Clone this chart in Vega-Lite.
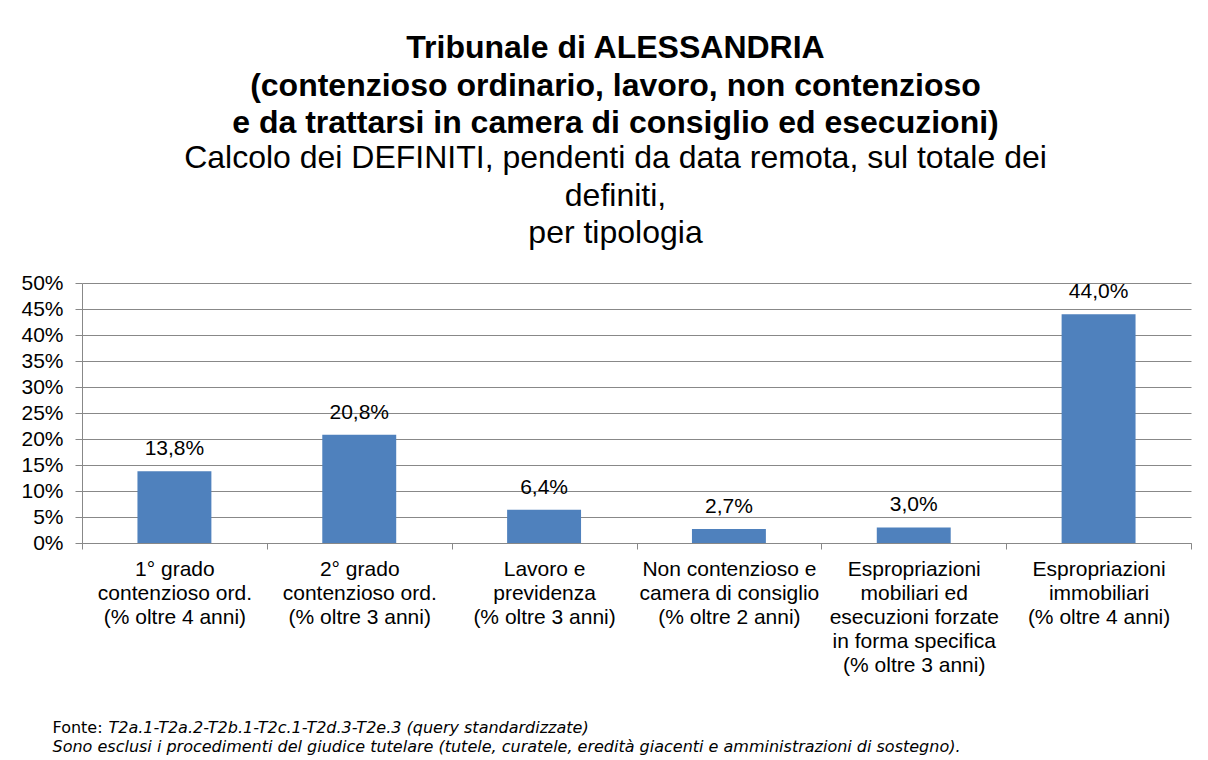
{
  "$schema": "https://vega.github.io/schema/vega-lite/v6.json",
  "width": 1109,
  "height": 260,
  "autosize": "none",
  "padding": {"left": 82, "top": 283, "right": 17, "bottom": 217},
  "background": "white",
  "config": {
    "locale": {"number": {"decimal": ",", "thousands": ".", "grouping": [3], "currency": ["€", ""]}},
    "font": "Liberation Sans",
    "view": {"stroke": null}
  },
  "title": {
    "text": ["Tribunale di ALESSANDRIA", "(contenzioso ordinario, lavoro, non contenzioso", "e da trattarsi in camera di consiglio ed esecuzioni)"],
    "subtitle": ["Calcolo dei DEFINITI, pendenti da data remota, sul totale dei", "definiti,", "per tipologia"],
    "font": "Liberation Sans",
    "subtitleFont": "Liberation Sans",
    "fontSize": 32,
    "fontWeight": "bold",
    "subtitleFontSize": 32,
    "subtitleFontWeight": "normal",
    "lineHeight": 37.5,
    "subtitleLineHeight": 37.5,
    "subtitlePadding": 3,
    "color": "#000000",
    "subtitleColor": "#000000",
    "anchor": "middle",
    "dx": -21,
    "offset": 22
  },
  "data": {
    "values": [
      {"categoria": "1° grado|contenzioso ord.|(% oltre 4 anni)", "valore": 0.138},
      {"categoria": "2° grado|contenzioso ord.|(% oltre 3 anni)", "valore": 0.208},
      {"categoria": "Lavoro e|previdenza|(% oltre 3 anni)", "valore": 0.064},
      {"categoria": "Non contenzioso e|camera di consiglio|(% oltre 2 anni)", "valore": 0.027},
      {"categoria": "Espropriazioni|mobiliari ed|esecuzioni forzate|in forma specifica|(% oltre 3 anni)", "valore": 0.030},
      {"categoria": "Espropriazioni|immobiliari|(% oltre 4 anni)", "valore": 0.44}
    ]
  },
  "encoding": {
    "y": {
      "field": "valore",
      "type": "quantitative",
      "scale": {"domain": [0, 0.5], "nice": false},
      "axis": {
        "values": [0, 0.05, 0.1, 0.15, 0.2, 0.25, 0.3, 0.35, 0.4, 0.45, 0.5],
        "format": ".0%",
        "labelOverlap": false,
        "labelFont": "Liberation Sans",
        "labelFontSize": 21,
        "labelColor": "#000000",
        "labelPadding": 12,
        "tickSize": 7,
        "tickColor": "#888888",
        "domainColor": "#888888",
        "gridColor": "#888888",
        "grid": true,
        "title": "Fonte:",
        "titleFont": "DejaVu Sans",
        "titleFontSize": 16,
        "titleFontWeight": "normal",
        "titleColor": "#000000",
        "titleAngle": 0,
        "titleAlign": "left",
        "titleBaseline": "alphabetic",
        "titleX": -30,
        "titleY": 449
      }
    }
  },
  "resolve": {"axis": {"x": "independent"}},
  "layer": [
    {
      "mark": {"type": "bar", "color": "#4F81BD", "width": {"band": 0.4}},
      "encoding": {
        "x": {
          "field": "categoria",
          "type": "nominal",
          "sort": null,
          "scale": {"paddingInner": 0, "paddingOuter": 0},
          "axis": {
            "orient": "bottom",
            "labelAngle": 0,
            "labelExpr": "split(datum.label, '|')",
            "labelFont": "Liberation Sans",
            "labelFontSize": 21,
            "labelColor": "#000000",
            "labelLineHeight": 24,
            "labelPadding": 9,
            "labelBaseline": "top",
            "labelLimit": 300,
            "tickBand": "extent",
            "tickSize": 6,
            "tickColor": "#888888",
            "domainColor": "#888888",
            "grid": false,
            "title": "Sono esclusi i procedimenti del giudice tutelare (tutele, curatele, eredità giacenti e amministrazioni di sostegno).",
            "titleFont": "DejaVu Sans",
            "titleFontSize": 16,
            "titleFontStyle": "italic",
            "titleFontWeight": "normal",
            "titleColor": "#000000",
            "titleAlign": "left",
            "titleBaseline": "alphabetic",
            "titleAngle": 0,
            "titleX": -30,
            "titleY": 208
          }
        }
      }
    },
    {
      "mark": {"type": "text", "baseline": "bottom", "dy": -12, "font": "Liberation Sans", "fontSize": 21, "color": "#000000"},
      "encoding": {
        "x": {
          "field": "categoria",
          "type": "nominal",
          "sort": null,
          "axis": {
            "orient": "top",
            "labels": false,
            "ticks": false,
            "domain": false,
            "grid": false,
            "title": "T2a.1-T2a.2-T2b.1-T2c.1-T2d.3-T2e.3 (query standardizzate)",
            "titleFont": "DejaVu Sans",
            "titleFontSize": 16,
            "titleFontStyle": "italic",
            "titleFontWeight": "normal",
            "titleColor": "#000000",
            "titleAlign": "left",
            "titleBaseline": "alphabetic",
            "titleAngle": 0,
            "titleX": 26,
            "titleY": 449
          }
        },
        "text": {"field": "valore", "type": "quantitative", "format": ".1%"}
      }
    }
  ]
}
